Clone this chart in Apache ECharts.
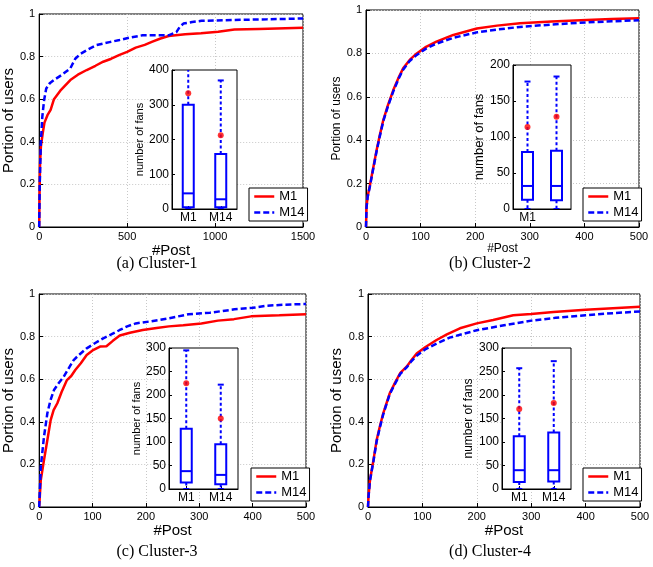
<!DOCTYPE html>
<html><head><meta charset="utf-8">
<script src="https://cdn.jsdelivr.net/npm/echarts@6/dist/echarts.min.js"></script>
<style>html,body{margin:0;padding:0;background:#fff}#c{width:653px;height:567px}</style>
</head><body><div id="c"></div>
<script>
// ---------- DATA ----------
const seriesNames = ['M1', 'M14'];
const boxCategories = ['M1', 'M14'];

// CDF curves: [#Post, portion of users]
const cdfA_M1 = [[0,0],[2,0.15],[5,0.3],[10,0.38],[20,0.44],[30,0.49],[47,0.525],[65,0.55],[84,0.6],[120,0.64],[177,0.69],[220,0.715],[270,0.737],[320,0.757],[364,0.776],[410,0.79],[457,0.808],[500,0.822],[549,0.842],[600,0.855],[644,0.87],[690,0.885],[736,0.897],[830,0.905],[920,0.91],[1018,0.917],[1110,0.927],[1250,0.93],[1400,0.933],[1500,0.935]];
const cdfA_M14 = [[0,0],[3,0.2],[9,0.39],[18,0.52],[28,0.596],[40,0.65],[60,0.675],[84,0.69],[130,0.715],[177,0.745],[205,0.79],[233,0.812],[280,0.835],[326,0.854],[400,0.868],[457,0.878],[520,0.89],[588,0.9],[650,0.9],[736,0.9],[780,0.915],[800,0.94],[820,0.955],[870,0.962],[923,0.968],[1100,0.972],[1295,0.975],[1500,0.979]];

const cdfB_M1 = [[0,0],[1,0.094],[3,0.14],[7,0.19],[13,0.27],[19.5,0.355],[25,0.42],[31.7,0.493],[40,0.56],[50,0.631],[60,0.69],[68,0.731],[80,0.77],[93,0.8],[110,0.83],[129,0.854],[160,0.885],[203,0.915],[240,0.928],[282,0.939],[340,0.947],[404,0.954],[450,0.958],[500,0.962]];
const cdfB_M14 = [[0,0],[1,0.09],[3,0.138],[7,0.185],[13,0.265],[19.5,0.35],[25,0.415],[31.7,0.488],[40,0.555],[50,0.625],[60,0.685],[68,0.725],[80,0.765],[93,0.793],[110,0.822],[129,0.845],[160,0.872],[203,0.897],[240,0.91],[282,0.922],[340,0.933],[404,0.943],[450,0.948],[500,0.953]];

const cdfC_M1 = [[0,0],[3,0.127],[9,0.22],[15,0.31],[21.5,0.408],[27,0.455],[34,0.487],[42,0.54],[52,0.596],[60,0.615],[67.6,0.643],[78,0.675],[89,0.714],[100,0.735],[114,0.753],[126,0.755],[138,0.78],[151,0.805],[170,0.818],[194,0.831],[220,0.84],[243,0.848],[270,0.853],[304,0.862],[335,0.875],[365,0.882],[397,0.895],[450,0.9],[500,0.905]];
const cdfC_M14 = [[0,0],[3,0.189],[9,0.33],[15.3,0.44],[21,0.5],[27.7,0.549],[36,0.58],[46,0.612],[55,0.65],[64.6,0.69],[75,0.715],[89,0.745],[105,0.77],[120,0.792],[135,0.81],[151,0.831],[165,0.848],[181,0.862],[210,0.872],[243,0.886],[280,0.905],[320,0.912],[366,0.928],[400,0.935],[427,0.945],[460,0.95],[500,0.953]];

const cdfD_M1 = [[0,0],[1,0.05],[3.7,0.127],[10,0.22],[16,0.315],[22,0.38],[28,0.44],[40,0.534],[50,0.585],[59,0.628],[71,0.659],[80,0.69],[89.5,0.721],[105,0.75],[126,0.784],[145,0.81],[169,0.839],[200,0.862],[230,0.878],[267,0.9],[300,0.906],[341,0.915],[400,0.926],[450,0.933],[500,0.94]];
const cdfD_M14 = [[0,0],[1,0.05],[3.7,0.125],[10,0.215],[16,0.31],[22,0.375],[28,0.435],[40,0.53],[50,0.58],[59,0.624],[71,0.655],[80,0.685],[89.5,0.71],[105,0.74],[126,0.767],[150,0.795],[200,0.83],[250,0.853],[300,0.875],[345,0.888],[400,0.9],[450,0.91],[500,0.918]];

// Inset boxplots: [lower whisker, Q1, median, Q3, upper whisker]
const boxA = [[0,5,45,300,480],[0,5,28,158,370]];
const meanA = [333, 212];
const boxB = [[0,13,32,79,177],[0,12,32,81,184]];
const meanB = [114, 128];
const boxC = [[0,14,38,128,295],[0,10,30,95,222]];
const meanC = [225, 150];
const boxD = [[0,15,40,112,257],[0,16,40,120,272]];
const meanD = [170, 183];

const captions = ['(a) Cluster-1', '(b) Cluster-2', '(c) Cluster-3', '(d) Cluster-4'];
const xAxisName = '#Post';
const yAxisName = 'Portion of users';
const insetYName = 'number of fans';

// ---------- LAYOUT ----------
const panels = [
  {cdf:[cdfA_M1,cdfA_M14], xMax:1500, xInt:500, box:boxA, mean:meanA, bMax:400, bInt:100,
   main:{left:35,top:14,width:268,height:213}, inset:{left:172,top:70,width:65,height:139},
   legend:{left:249,top:188}, nameSize:15, xGap:13, yGap:19, inSize:11, inGap:23, cap:[157,264]},
  {cdf:[cdfB_M1,cdfB_M14], xMax:500, xInt:100, box:boxB, mean:meanB, bMax:200, bInt:50,
   main:{left:366,top:10,width:273,height:217}, inset:{left:513,top:65,width:58,height:144},
   legend:{left:583,top:188}, nameSize:12, xGap:14, yGap:22, inSize:13, inGap:24, cap:[490,264]},
  {cdf:[cdfC_M1,cdfC_M14], xMax:500, xInt:100, box:boxC, mean:meanC, bMax:300, bInt:50,
   main:{left:35,top:294,width:271,height:213}, inset:{left:169,top:348,width:69,height:141},
   legend:{left:251,top:468}, nameSize:15, xGap:13, yGap:20, inSize:11, inGap:25, cap:[157,552]},
  {cdf:[cdfD_M1,cdfD_M14], xMax:500, xInt:100, box:boxD, mean:meanD, bMax:300, bInt:50,
   main:{left:368,top:294,width:272,height:213}, inset:{left:502,top:348,width:69,height:141},
   legend:{left:583,top:468}, nameSize:15, xGap:13, yGap:22, inSize:12, inGap:25, cap:[490,552]}
];

const FONT = 'Liberation Sans';
const RED = '#ff0000', BLUE = '#0000ff';

function renderBox(params, api) {
  const i = api.value(0);
  const p = k => api.coord([i, api.value(k)]);
  const lo = p(1), q1 = p(2), md = p(3), q3 = p(4), hi = p(5);
  const cx = lo[0], w = 11, cw = 3;
  const solid = {stroke: BLUE, lineWidth: 2, fill: null};
  const dash = {stroke: BLUE, lineWidth: 2, lineDash: [3, 2.5], fill: null};
  return {type: 'group', children: [
    {type: 'line', shape: {x1: cx, y1: q3[1], x2: cx, y2: hi[1]}, style: dash},
    {type: 'line', shape: {x1: cx, y1: q1[1], x2: cx, y2: lo[1]}, style: dash},
    {type: 'line', shape: {x1: cx - cw, y1: hi[1], x2: cx + cw, y2: hi[1]}, style: solid},
    {type: 'line', shape: {x1: cx - cw, y1: lo[1], x2: cx + cw, y2: lo[1]}, style: solid},
    {type: 'rect', shape: {x: cx - w / 2, y: q3[1], width: w, height: q1[1] - q3[1]}, style: solid},
    {type: 'line', shape: {x1: cx - w / 2, y1: md[1], x2: cx + w / 2, y2: md[1]}, style: solid}
  ]};
}

const option = {animation: false, backgroundColor: '#fff', grid: [], xAxis: [], yAxis: [], series: [], legend: [], graphic: []};
const tickStyle = {color: '#000', fontFamily: FONT, fontSize: 11};

panels.forEach((P, k) => {
  const gMain = option.grid.length;
  option.grid.push(Object.assign({show: true, borderColor: '#000', borderWidth: 1, containLabel: false}, P.main));
  option.grid.push(Object.assign({show: true, borderColor: '#000', borderWidth: 1, backgroundColor: '#fff', z: 3, containLabel: false}, P.inset));
  const gIn = gMain + 1;

  option.xAxis.push({gridIndex: gMain, type: 'value', min: 0, max: P.xMax, interval: P.xInt,
    axisLine: {show: true, lineStyle: {color: '#000', width: 1}},
    axisTick: {show: true, inside: true, length: 4, lineStyle: {color: '#000'}},
    axisLabel: Object.assign({margin: 4, formatter: v => String(v)}, tickStyle),
    splitLine: {show: true, lineStyle: {color: '#c8c8c8', type: [1, 2]}},
    name: xAxisName, nameLocation: 'middle', nameGap: P.xGap,
    nameTextStyle: {color: '#000', fontFamily: FONT, fontSize: P.nameSize}});
  option.yAxis.push({gridIndex: gMain, type: 'value', min: 0, max: 1, interval: 0.2,
    axisLine: {show: true, lineStyle: {color: '#000', width: 1}},
    axisTick: {show: true, inside: true, length: 4, lineStyle: {color: '#000'}},
    axisLabel: Object.assign({margin: 4, formatter: v => String(+v.toFixed(1))}, tickStyle),
    splitLine: {show: true, lineStyle: {color: '#c8c8c8', type: [1, 2]}},
    name: yAxisName, nameLocation: 'middle', nameGap: P.yGap,
    nameTextStyle: {color: '#000', fontFamily: FONT, fontSize: P.nameSize}});

  option.xAxis.push({gridIndex: gIn, type: 'category', data: boxCategories, z: 4,
    axisLine: {show: true, lineStyle: {color: '#000'}},
    axisTick: {show: true, inside: true, alignWithLabel: true, length: 3, lineStyle: {color: '#000'}},
    axisLabel: {margin: 3, color: '#000', fontFamily: FONT, fontSize: 12},
    splitLine: {show: false}});
  option.yAxis.push({gridIndex: gIn, type: 'value', min: 0, max: P.bMax, interval: P.bInt, z: 4,
    axisLine: {show: true, lineStyle: {color: '#000'}},
    axisTick: {show: true, inside: true, length: 3, lineStyle: {color: '#000'}},
    axisLabel: {margin: 3, color: '#000', fontFamily: FONT, fontSize: 12, formatter: v => String(v)},
    splitLine: {show: false},
    name: insetYName, nameLocation: 'middle', nameGap: P.inGap,
    nameTextStyle: {color: '#000', fontFamily: FONT, fontSize: P.inSize}});

  option.series.push({name: seriesNames[0], type: 'line', xAxisIndex: gMain, yAxisIndex: gMain,
    data: P.cdf[0], symbol: 'none', z: 2, lineStyle: {color: RED, width: 2.5}, itemStyle: {color: RED}});
  option.series.push({name: seriesNames[1], type: 'line', xAxisIndex: gMain, yAxisIndex: gMain,
    data: P.cdf[1], symbol: 'none', z: 2, lineStyle: {color: BLUE, width: 2.5, type: [6, 3]}, itemStyle: {color: BLUE}});
  option.series.push({type: 'custom', xAxisIndex: gIn, yAxisIndex: gIn, clip: true, z: 10, silent: true,
    renderItem: renderBox, encode: {x: 0, y: [1, 2, 3, 4, 5]},
    data: P.box.map((b, i) => [i].concat(b))});
  option.series.push({type: 'scatter', xAxisIndex: gIn, yAxisIndex: gIn, z: 11, silent: true,
    symbolSize: 6, itemStyle: {color: RED}, data: P.mean.map((m, i) => [i, m])});

  option.legend.push({data: seriesNames, orient: 'vertical', left: P.legend.left, top: P.legend.top, z: 12,
    backgroundColor: '#fff', borderColor: '#000', borderWidth: 1, padding: [2, 3, 2, 4],
    itemWidth: 20, itemHeight: 14, itemGap: 3, selectedMode: false,
    itemStyle: {opacity: 0, color: 'transparent', borderWidth: 0},
    lineStyle: {width: 2.5},
    textStyle: {color: '#000', fontFamily: FONT, fontSize: 13}});

  option.graphic.push({type: 'text', x: P.cap[0], y: P.cap[1], silent: true,
    style: {text: captions[k], font: '16px "Liberation Serif"', fill: '#000',
      align: 'center', verticalAlign: 'middle', textAlign: 'center', textVerticalAlign: 'middle'}});
});

const chart = echarts.init(document.getElementById('c'), null, {renderer: 'canvas'});
chart.setOption(option);
</script>
</body></html>
